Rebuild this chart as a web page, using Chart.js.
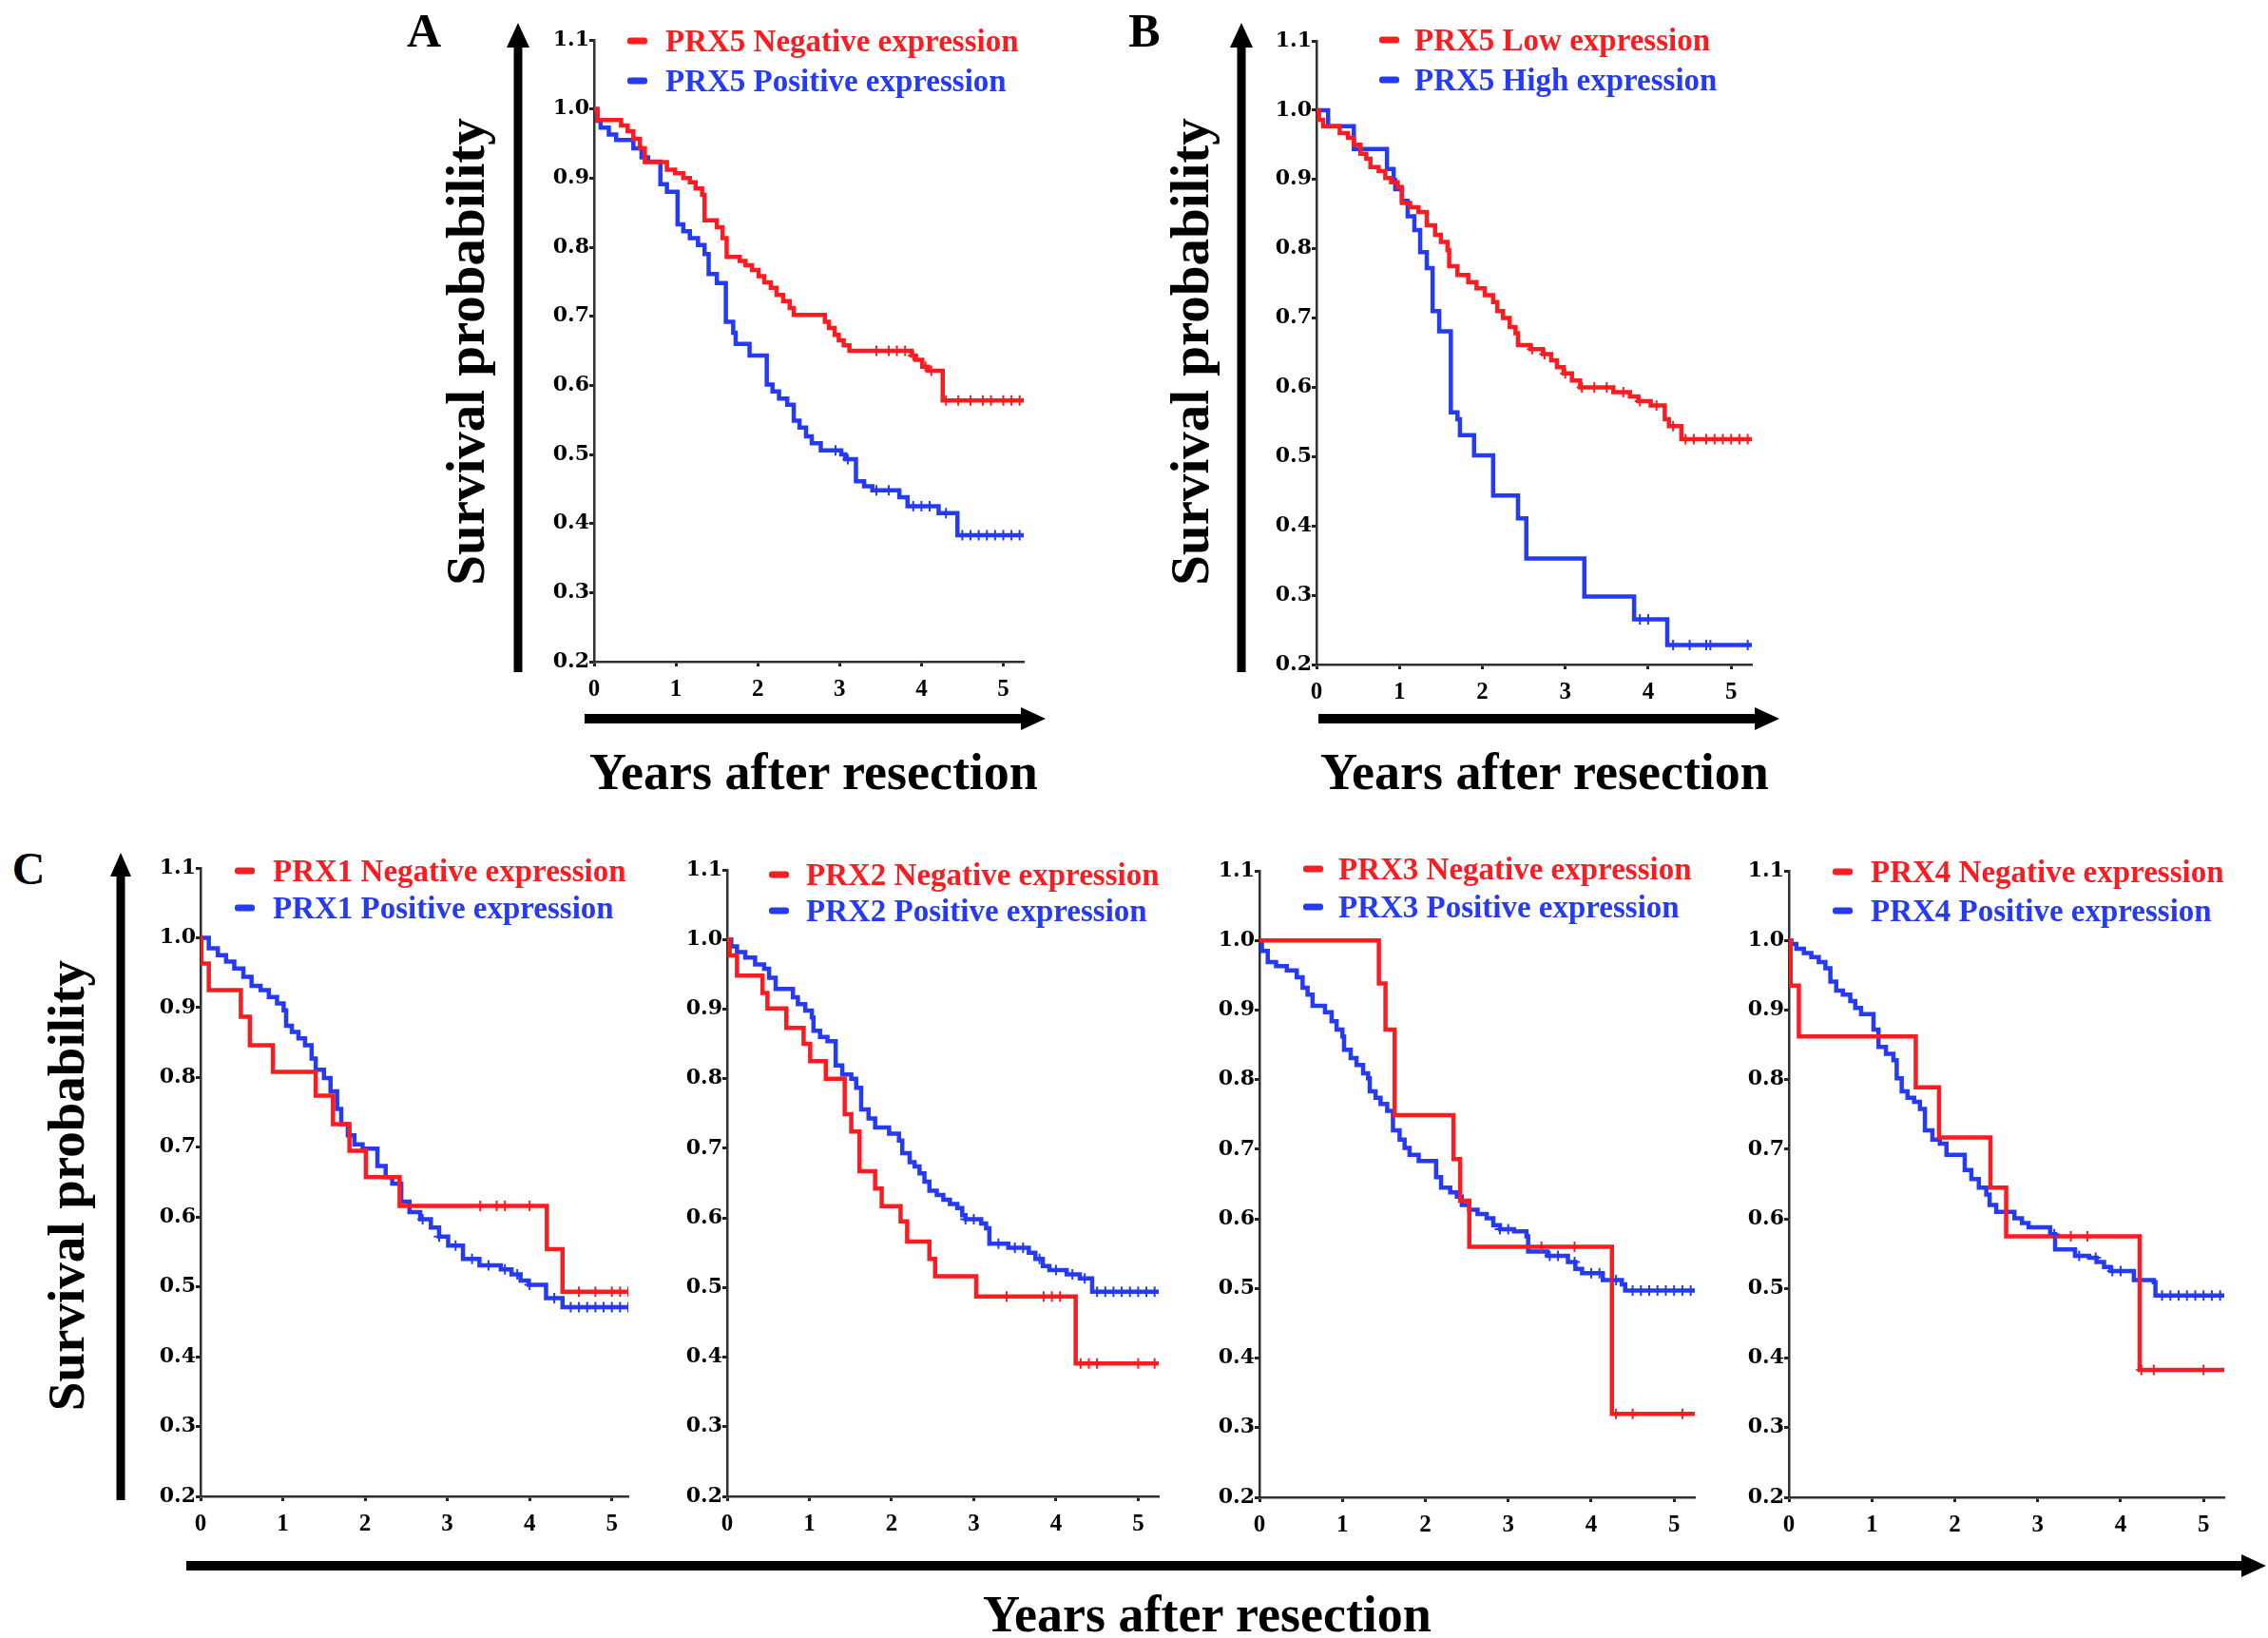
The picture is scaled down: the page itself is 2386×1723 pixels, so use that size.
<!DOCTYPE html>
<html>
<head>
<meta charset="utf-8">
<script src="https://cdn.jsdelivr.net/npm/chart.js@4.4.0/dist/chart.umd.min.js"></script>
<style>
  body { margin: 0; background: #fff; width: 2386px; height: 1723px; position: relative; overflow: hidden;
         font-family: "Liberation Serif", "Times New Roman", serif; }
  canvas { position: absolute; }
  .t { position: absolute; font-weight: bold; white-space: nowrap; line-height: 1; color: #000; }
  .mid { transform: translate(-50%, -50%); }
  .rot { transform: translate(-50%, -50%) rotate(-90deg); }
  .leg { position: absolute; font-weight: bold; font-size: 33px; line-height: 1; white-space: nowrap; transform: translateY(-50%); }
  .dash { position: absolute; width: 21px; height: 7px; border-radius: 3px; transform: translateY(-50%); }
</style>
</head>
<body>
<svg width="2386" height="1723" style="position:absolute;left:0;top:0">
  <g fill="#000" stroke="#000">
    <!-- A -->
    <line x1="545" y1="707" x2="545" y2="44" stroke-width="9"/>
    <polygon points="545,24 533,50 557,50" stroke="none"/>
    <line x1="615" y1="756" x2="1078" y2="756" stroke-width="10"/>
    <polygon points="1100,756 1074,744 1074,768" stroke="none"/>
    <!-- B -->
    <line x1="1306" y1="707" x2="1306" y2="44" stroke-width="9"/>
    <polygon points="1306,24 1294,50 1318,50" stroke="none"/>
    <line x1="1387" y1="756" x2="1850" y2="756" stroke-width="10"/>
    <polygon points="1872,756 1846,744 1846,768" stroke="none"/>
    <!-- C -->
    <line x1="127" y1="1578" x2="127" y2="918" stroke-width="9"/>
    <polygon points="127,897 116,922 138,922" stroke="none"/>
    <line x1="196" y1="1647" x2="2360" y2="1647" stroke-width="10"/>
    <polygon points="2384,1647 2358,1635 2358,1659" stroke="none"/>
  </g>
</svg>

<script>
// tick values
const yearTicks = [0, 1, 2, 3, 4, 5];
const probTicks = [0.2, 0.3, 0.4, 0.5, 0.6, 0.7, 0.8, 0.9, 1.0, 1.1];

// legend labels
const negLabels = ["PRX5 Negative expression", "PRX5 Low expression", "PRX1 Negative expression",
                   "PRX2 Negative expression", "PRX3 Negative expression", "PRX4 Negative expression"];
const posLabels = ["PRX5 Positive expression", "PRX5 High expression", "PRX1 Positive expression",
                   "PRX2 Positive expression", "PRX3 Positive expression", "PRX4 Positive expression"];

// A: PRX5 negative / positive
const aNegT = [0, 0.04, 0.33, 0.41, 0.48, 0.56, 0.62, 0.89, 0.99, 1.09, 1.17, 1.24, 1.32, 1.35, 1.50, 1.57, 1.62, 1.78, 1.85, 1.93, 2.01, 2.08, 2.16, 2.23, 2.31, 2.39, 2.44, 2.82, 2.87, 2.94, 2.99, 3.05, 3.12, 3.88, 3.93, 4.01, 4.08, 4.26, 5.25];
const aNegS = [1.0, 0.984, 0.976, 0.968, 0.957, 0.943, 0.923, 0.912, 0.907, 0.900, 0.894, 0.885, 0.876, 0.839, 0.829, 0.813, 0.786, 0.780, 0.774, 0.767, 0.758, 0.749, 0.741, 0.731, 0.722, 0.712, 0.702, 0.692, 0.683, 0.673, 0.665, 0.658, 0.650, 0.643, 0.637, 0.627, 0.621, 0.578, 0.578];
const aNegC = [3.45, 3.6, 3.7, 3.8, 3.9, 4.05, 4.12, 4.3, 4.45, 4.6, 4.75, 4.85, 5.0, 5.1, 5.2];
const aPosT = [0, 0.04, 0.08, 0.18, 0.27, 0.48, 0.58, 0.66, 0.81, 0.89, 1.02, 1.09, 1.17, 1.27, 1.35, 1.40, 1.50, 1.61, 1.70, 1.73, 1.90, 2.11, 2.18, 2.26, 2.36, 2.44, 2.51, 2.59, 2.66, 2.77, 3.02, 3.07, 3.20, 3.30, 3.40, 3.73, 3.83, 4.21, 4.44, 5.25];
const aPosS = [1.0, 0.983, 0.973, 0.963, 0.955, 0.943, 0.930, 0.924, 0.891, 0.880, 0.833, 0.823, 0.813, 0.803, 0.790, 0.761, 0.748, 0.692, 0.676, 0.660, 0.643, 0.601, 0.591, 0.581, 0.572, 0.549, 0.539, 0.526, 0.516, 0.506, 0.500, 0.493, 0.461, 0.454, 0.448, 0.438, 0.425, 0.415, 0.383, 0.383];
const aPosC = [2.95, 3.1, 3.45, 3.6, 3.9, 4.0, 4.1, 4.3, 4.5, 4.6, 4.7, 4.8, 4.9, 5.0, 5.1, 5.2];

// B: PRX5 low / high
const bNegT = [0, 0.03, 0.08, 0.28, 0.38, 0.45, 0.53, 0.60, 0.65, 0.75, 0.83, 0.90, 0.98, 1.03, 1.13, 1.23, 1.33, 1.43, 1.50, 1.58, 1.60, 1.70, 1.83, 1.93, 2.03, 2.13, 2.18, 2.25, 2.33, 2.40, 2.43, 2.58, 2.73, 2.83, 2.90, 2.98, 3.08, 3.18, 3.58, 3.78, 3.88, 4.03, 4.20, 4.25, 4.40, 5.25];
const bNegS = [1.0, 0.986, 0.977, 0.967, 0.960, 0.950, 0.937, 0.930, 0.918, 0.912, 0.902, 0.896, 0.889, 0.866, 0.860, 0.853, 0.834, 0.820, 0.810, 0.798, 0.775, 0.762, 0.752, 0.743, 0.733, 0.723, 0.710, 0.700, 0.687, 0.678, 0.661, 0.655, 0.648, 0.639, 0.629, 0.620, 0.610, 0.600, 0.593, 0.587, 0.580, 0.574, 0.554, 0.544, 0.525, 0.525];
const bNegC = [2.6, 2.75, 3.0, 3.2, 3.35, 3.5, 3.7, 3.9, 4.1, 4.3, 4.45, 4.55, 4.7, 4.8, 4.9, 5.0, 5.1, 5.2];
const bPosT = [0, 0.14, 0.45, 0.85, 0.93, 0.95, 1.03, 1.10, 1.18, 1.25, 1.33, 1.40, 1.48, 1.62, 1.70, 1.73, 1.90, 2.13, 2.43, 2.53, 3.23, 3.83, 4.23, 5.25];
const bPosS = [1.0, 0.977, 0.944, 0.915, 0.899, 0.886, 0.869, 0.847, 0.827, 0.795, 0.772, 0.710, 0.681, 0.564, 0.554, 0.531, 0.502, 0.444, 0.411, 0.353, 0.298, 0.265, 0.228, 0.228];
const bPosC = [3.9, 4.0, 4.3, 4.5, 4.7, 4.75, 5.2];

// C1: PRX1
const c1NegT = [0, 0.01, 0.10, 0.49, 0.60, 0.88, 1.40, 1.61, 1.81, 2.01, 2.42, 4.21, 4.40, 5.2];
const c1NegS = [1.0, 0.963, 0.925, 0.887, 0.846, 0.808, 0.774, 0.733, 0.695, 0.657, 0.616, 0.554, 0.493, 0.493];
const c1NegC = [3.4, 3.6, 3.7, 4.0, 4.6, 4.8, 5.0, 5.1, 5.2];
const c1PosT = [0, 0.10, 0.21, 0.31, 0.41, 0.52, 0.62, 0.73, 0.83, 0.93, 1.01, 1.04, 1.11, 1.19, 1.27, 1.35, 1.40, 1.50, 1.58, 1.66, 1.71, 1.79, 1.87, 1.97, 2.15, 2.25, 2.33, 2.44, 2.54, 2.67, 2.80, 2.90, 3.01, 3.19, 3.39, 3.65, 3.78, 3.89, 3.99, 4.20, 4.40, 5.2];
const c1PosS = [1.0, 0.985, 0.975, 0.966, 0.956, 0.944, 0.931, 0.925, 0.915, 0.906, 0.896, 0.874, 0.865, 0.856, 0.846, 0.827, 0.811, 0.799, 0.780, 0.755, 0.733, 0.717, 0.704, 0.698, 0.673, 0.657, 0.648, 0.622, 0.607, 0.597, 0.585, 0.572, 0.559, 0.540, 0.531, 0.525, 0.518, 0.509, 0.503, 0.484, 0.471, 0.471];
const c1PosC = [2.7, 2.9, 3.1, 3.3, 3.5, 3.7, 3.85, 4.0, 4.3, 4.5, 4.6, 4.7, 4.8, 4.9, 5.0, 5.1, 5.2];

// C2: PRX2
const c2NegT = [0, 0.03, 0.12, 0.43, 0.49, 0.72, 0.93, 1.01, 1.20, 1.43, 1.51, 1.61, 1.80, 1.88, 2.11, 2.19, 2.46, 2.53, 3.03, 4.24, 5.25];
const c2NegS = [1.0, 0.977, 0.948, 0.923, 0.901, 0.873, 0.850, 0.825, 0.800, 0.749, 0.724, 0.667, 0.642, 0.617, 0.595, 0.566, 0.541, 0.516, 0.487, 0.391, 0.391];
const c2NegC = [3.4, 3.85, 3.95, 4.05, 4.3, 4.4, 4.5, 5.0, 5.2];
const c2PosT = [0, 0.05, 0.12, 0.22, 0.34, 0.45, 0.51, 0.59, 0.80, 0.86, 0.95, 1.03, 1.05, 1.13, 1.22, 1.32, 1.40, 1.51, 1.57, 1.63, 1.72, 1.80, 1.97, 2.09, 2.13, 2.22, 2.28, 2.34, 2.40, 2.46, 2.55, 2.63, 2.71, 2.80, 2.86, 2.90, 3.09, 3.15, 3.19, 3.42, 3.67, 3.75, 3.84, 3.92, 4.13, 4.29, 4.44, 5.25];
const c2PosS = [1.0, 0.990, 0.982, 0.974, 0.964, 0.958, 0.945, 0.929, 0.917, 0.907, 0.898, 0.888, 0.869, 0.860, 0.854, 0.819, 0.806, 0.800, 0.787, 0.756, 0.743, 0.730, 0.721, 0.711, 0.693, 0.680, 0.674, 0.664, 0.652, 0.639, 0.633, 0.626, 0.620, 0.614, 0.604, 0.598, 0.592, 0.585, 0.563, 0.557, 0.550, 0.541, 0.531, 0.525, 0.519, 0.513, 0.494, 0.494];
const c2PosC = [2.9, 3.0, 3.3, 3.5, 3.6, 3.8, 4.0, 4.2, 4.35, 4.5, 4.6, 4.7, 4.8, 4.9, 5.0, 5.1, 5.2];

// C3: PRX3
const c3NegT = [0, 1.44, 1.52, 1.63, 2.34, 2.42, 2.53, 4.25, 5.25];
const c3NegS = [1.0, 0.938, 0.872, 0.749, 0.686, 0.626, 0.560, 0.320, 0.320];
const c3NegC = [3.4, 3.8, 4.3, 4.5, 5.1];
const c3PosT = [0, 0.03, 0.10, 0.20, 0.33, 0.45, 0.52, 0.58, 0.64, 0.79, 0.87, 0.93, 1.00, 1.02, 1.10, 1.17, 1.25, 1.31, 1.33, 1.40, 1.46, 1.54, 1.61, 1.69, 1.75, 1.81, 1.92, 2.13, 2.19, 2.30, 2.38, 2.44, 2.53, 2.63, 2.74, 2.82, 2.90, 3.07, 3.22, 3.24, 3.47, 3.72, 3.81, 3.89, 4.14, 4.37, 4.41, 5.25];
const c3PosS = [1.0, 0.985, 0.969, 0.963, 0.957, 0.947, 0.932, 0.922, 0.906, 0.897, 0.884, 0.872, 0.862, 0.843, 0.831, 0.821, 0.809, 0.802, 0.783, 0.774, 0.765, 0.755, 0.727, 0.714, 0.702, 0.692, 0.683, 0.660, 0.645, 0.638, 0.632, 0.620, 0.613, 0.607, 0.601, 0.591, 0.585, 0.582, 0.575, 0.553, 0.547, 0.538, 0.528, 0.522, 0.512, 0.506, 0.497, 0.497];
const c3PosC = [2.9, 3.0, 3.5, 3.6, 3.8, 4.0, 4.1, 4.3, 4.5, 4.6, 4.7, 4.8, 4.9, 5.0, 5.1, 5.2];

// C4: PRX4
const c4NegT = [0, 0.02, 0.12, 1.53, 1.81, 2.43, 2.62, 4.23, 5.25];
const c4NegS = [1.0, 0.935, 0.862, 0.789, 0.717, 0.645, 0.575, 0.383, 0.383];
const c4NegC = [3.4, 3.6, 4.25, 4.4, 5.0];
const c4PosT = [0, 0.03, 0.09, 0.18, 0.27, 0.36, 0.44, 0.50, 0.57, 0.65, 0.74, 0.80, 0.87, 1.02, 1.08, 1.17, 1.26, 1.30, 1.36, 1.43, 1.51, 1.58, 1.64, 1.73, 1.82, 1.90, 2.12, 2.20, 2.29, 2.38, 2.42, 2.50, 2.72, 2.81, 2.89, 3.15, 3.21, 3.45, 3.62, 3.71, 3.80, 3.88, 4.16, 4.40, 4.42, 5.25];
const c4PosS = [1.0, 0.995, 0.988, 0.982, 0.976, 0.969, 0.960, 0.941, 0.928, 0.922, 0.913, 0.903, 0.894, 0.872, 0.847, 0.837, 0.828, 0.802, 0.783, 0.774, 0.768, 0.758, 0.727, 0.714, 0.708, 0.692, 0.670, 0.657, 0.645, 0.635, 0.620, 0.610, 0.601, 0.594, 0.588, 0.578, 0.556, 0.547, 0.544, 0.538, 0.531, 0.525, 0.512, 0.509, 0.490, 0.490];
const c4PosC = [3.2, 3.5, 3.7, 3.9, 4.0, 4.5, 4.6, 4.7, 4.8, 4.9, 5.0, 5.1, 5.2];

const RED = "rgb(250, 28, 32)";
const BLUE = "rgb(36, 58, 245)";

// where each panel sits on the page (pixel of year 0 / year 5, of 1.1 / 0.2)
const panels = [
  { x0: 625, x5: 1055, yTop: 42, yBot: 696, xmax: 5.25, neg: [aNegT, aNegS, aNegC], pos: [aPosT, aPosS, aPosC], dashX: 660, txtX: 700, ry: 43, by: 85 },
  { x0: 1385, x5: 1821, yTop: 43, yBot: 699, xmax: 5.25, neg: [bNegT, bNegS, bNegC], pos: [bPosT, bPosS, bPosC], dashX: 1451, txtX: 1488, ry: 42, by: 84 },
  { x0: 211, x5: 644, yTop: 913, yBot: 1574, xmax: 5.2, neg: [c1NegT, c1NegS, c1NegC], pos: [c1PosT, c1PosS, c1PosC], dashX: 247, txtX: 287, ry: 916, by: 955 },
  { x0: 765, x5: 1197, yTop: 915, yBot: 1574, xmax: 5.25, neg: [c2NegT, c2NegS, c2NegC], pos: [c2PosT, c2PosS, c2PosC], dashX: 809, txtX: 848, ry: 920, by: 958 },
  { x0: 1325, x5: 1761, yTop: 916, yBot: 1575, xmax: 5.25, neg: [c3NegT, c3NegS, c3NegC], pos: [c3PosT, c3PosS, c3PosC], dashX: 1371, txtX: 1408, ry: 914, by: 954 },
  { x0: 1882, x5: 2318, yTop: 916, yBot: 1575, xmax: 5.25, neg: [c4NegT, c4NegS, c4NegC], pos: [c4PosT, c4PosS, c4PosC], dashX: 1928, txtX: 1968, ry: 917, by: 958 },
];

const YW = 70, XH = 52, PT = 24, PR = 12;
const yTickFont = { family: "'DejaVu Serif', serif", size: 22, weight: "bold" };
const xTickFont = { family: "'Liberation Serif', 'Times New Roman', serif", size: 25, weight: "bold" };

// survival value of a step curve at time t
function survAt(ts, ss, t) {
  let v = ss[0];
  for (let i = 0; i < ts.length; i++) if (ts[i] <= t) v = ss[i];
  return v;
}

function curve(ts, ss, color) {
  return {
    data: ts.map((x, i) => ({ x: x, y: ss[i] })),
    borderColor: color, borderWidth: 4.5, stepped: true,
    pointRadius: 0, fill: false, tension: 0, order: 2,
  };
}
function censors(ts, ss, cs, color) {
  return {
    data: cs.map((x) => ({ x: x, y: survAt(ts, ss, x) })),
    showLine: false, pointStyle: "cross", pointRadius: 5.5,
    borderColor: color, borderWidth: 2, order: 1,
  };
}

function addText(cls, txt, x, y, size, color) {
  const d = document.createElement("div");
  d.className = cls;
  d.textContent = txt;
  d.style.left = x + "px";
  d.style.top = y + "px";
  if (size) d.style.fontSize = size + "px";
  if (color) d.style.color = color;
  document.body.appendChild(d);
  return d;
}
function addDash(x, y, color) {
  const d = document.createElement("div");
  d.className = "dash";
  d.style.left = x + "px";
  d.style.top = y + "px";
  d.style.background = color;
  document.body.appendChild(d);
}

panels.forEach((p, i) => {
  const perYear = (p.x5 - p.x0) / 5;
  const areaW = Math.round(perYear * p.xmax);
  const areaH = p.yBot - p.yTop;
  const cv = document.createElement("canvas");
  cv.width = YW + areaW + PR;
  cv.height = PT + areaH + XH;
  cv.style.left = (p.x0 - YW) + "px";
  cv.style.top = (p.yTop - PT) + "px";
  document.body.appendChild(cv);

  new Chart(cv, {
    type: "line",
    data: {
      datasets: [
        curve(p.neg[0], p.neg[1], RED),
        curve(p.pos[0], p.pos[1], BLUE),
        censors(p.neg[0], p.neg[1], p.neg[2], RED),
        censors(p.pos[0], p.pos[1], p.pos[2], BLUE),
      ],
    },
    options: {
      responsive: false,
      devicePixelRatio: 1,
      animation: false,
      layout: { padding: { top: PT, right: PR, left: 0, bottom: 0 } },
      plugins: { legend: { display: false }, tooltip: { enabled: false } },
      scales: {
        x: {
          type: "linear", min: 0, max: p.xmax,
          afterBuildTicks: (s) => { s.ticks = yearTicks.map((v) => ({ value: v })); },
          afterFit: (s) => { s.height = XH; },
          ticks: { font: xTickFont, color: "#000", padding: 10, maxRotation: 0, autoSkip: false },
          grid: { drawOnChartArea: false, drawTicks: true, tickLength: 5, tickWidth: 3, tickColor: "#222" },
          border: { display: true, color: "#2b3330", width: 2.5 },
        },
        y: {
          min: 0.2, max: 1.1,
          afterBuildTicks: (s) => { s.ticks = probTicks.map((v) => ({ value: v })); },
          afterFit: (s) => { s.width = YW; },
          ticks: { font: yTickFont, color: "#000", padding: 0, callback: (v) => Number(v).toFixed(1) },
          grid: { drawOnChartArea: false, drawTicks: true, tickLength: 5, tickWidth: 3, tickColor: "#222" },
          border: { display: true, color: "#2b3330", width: 2.5 },
        },
      },
    },
  });

  addDash(p.dashX, p.ry, RED);
  addText("leg", negLabels[i], p.txtX, p.ry, 33, RED);
  addDash(p.dashX, p.by, BLUE);
  addText("leg", posLabels[i], p.txtX, p.by, 33, BLUE);
});

// panel letters and axis titles
addText("t mid", "A", 446, 32, 50);
addText("t mid", "B", 1204, 32, 50);
addText("t mid", "C", 30, 914, 48);
addText("t rot", "Survival probability", 489, 370, 57);
addText("t rot", "Survival probability", 1251, 370, 57);
addText("t rot", "Survival probability", 69, 1247, 55);
addText("t mid", "Years after resection", 856, 812, 54);
addText("t mid", "Years after resection", 1625, 812, 54);
addText("t mid", "Years after resection", 1270, 1698, 54);
</script>
</body>
</html>
